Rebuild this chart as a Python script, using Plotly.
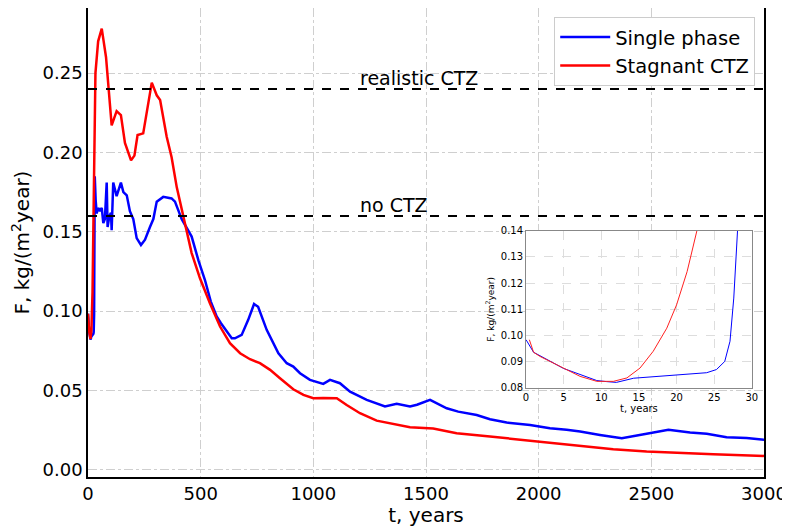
import plotly.graph_objects as go

# ---- main chart data ----
t_single = [0, 1, 5, 10.7, 12, 14.3, 17.4, 21.8, 24, 25.3, 26.4, 27.1, 27.6, 28.1, 30, 34, 38.5, 45, 53, 61, 68, 75,
            83, 87, 95, 102, 105, 112, 127, 146, 157, 172, 186, 201, 216, 235, 253, 275, 290, 305, 334, 371, 386,
            416, 430, 460, 490, 519, 545, 571, 590, 638, 652, 682, 711, 737, 755, 793, 845, 882, 911, 941, 985,
            1044, 1074, 1118, 1163, 1237, 1318, 1370, 1429, 1460, 1518, 1592, 1643, 1725, 1784, 1858, 1962, 2050,
            2124, 2184, 2272, 2369, 2479, 2576, 2672, 2746, 2834, 2923, 3000]
f_single = [0.0984, 0.0936, 0.0874, 0.0825, 0.0822, 0.0838, 0.0844, 0.0853, 0.0858, 0.087, 0.0901, 0.0978, 0.1143,
            0.14, 0.185, 0.17, 0.1616, 0.165, 0.163, 0.165, 0.1555, 0.158, 0.181, 0.153, 0.16, 0.162, 0.151, 0.181,
            0.1725, 0.181, 0.175, 0.173, 0.163, 0.158, 0.146, 0.1417, 0.145, 0.153, 0.158, 0.169, 0.172, 0.171,
            0.169, 0.158, 0.1546, 0.147, 0.132, 0.1196, 0.106, 0.0966, 0.0924, 0.0829, 0.0829, 0.085, 0.0945,
            0.1045, 0.1028, 0.0882, 0.0735, 0.0672, 0.0651, 0.0609, 0.0567, 0.0542, 0.0567, 0.0546, 0.0493,
            0.0441, 0.0399, 0.0416, 0.0399, 0.041, 0.0441, 0.0388, 0.0367, 0.0346, 0.0319, 0.0298, 0.0283,
            0.0262, 0.0252, 0.0241, 0.022, 0.02, 0.0227, 0.0252, 0.0235, 0.0227, 0.0206, 0.02, 0.0189]

t_stagnant = [0, 1, 5, 11, 15, 20, 23, 28, 33, 45, 61, 80, 105, 127, 146, 164, 191, 206, 220, 245, 268, 283, 305,
              320, 349, 371, 394, 416, 430, 460, 497, 541, 586, 630, 675, 719, 763, 808, 852, 911, 956, 1000,
              1044, 1104, 1148, 1207, 1281, 1340, 1385, 1429, 1532, 1636, 1784, 1932, 2080, 2184, 2331, 2479,
              2627, 2775, 3000]
f_stagnant = [0.0984, 0.0936, 0.0874, 0.0825, 0.0876, 0.1117, 0.14, 0.2, 0.25, 0.27, 0.278, 0.26, 0.217, 0.226,
              0.2235, 0.206, 0.195, 0.198, 0.211, 0.212, 0.231, 0.244, 0.236, 0.233, 0.21, 0.197, 0.178, 0.164,
              0.1555, 0.1366, 0.1207, 0.105, 0.0903, 0.0798, 0.0735, 0.0697, 0.0672, 0.063, 0.0577, 0.0508,
              0.0472, 0.0451, 0.0453, 0.0451, 0.0409, 0.0357, 0.031, 0.0294, 0.0277, 0.0269, 0.026, 0.0231,
              0.021, 0.0189, 0.0164, 0.0151, 0.013, 0.0115, 0.0105, 0.0099, 0.0088]

ref_levels = [0.24, 0.16]
ref_labels = ["realistic CTZ", "no CTZ"]
ref_label_x = 1200

# ---- inset data (first 30 years) ----
ti_single = [0, 1, 5, 9.4, 10.7, 12, 14.3, 17.4, 21.8, 24, 25.3, 26.4, 27.1, 27.6, 28.1]
fi_single = [0.0984, 0.0936, 0.0874, 0.0828, 0.0824, 0.0821, 0.0837, 0.0844, 0.0853, 0.0858, 0.087, 0.0901,
             0.0978, 0.1143, 0.14]
ti_stagnant = [0.44, 1.0, 1.86, 4.96, 7.18, 9.4, 11.6, 13.4, 15.15, 16.9, 18.7, 20.0, 21.4, 22.7]
fi_stagnant = [0.0984, 0.0936, 0.092, 0.0874, 0.0844, 0.0825, 0.0825, 0.0838, 0.0876, 0.094, 0.1028, 0.1117,
               0.1244, 0.14]

font_family = "DejaVu Sans"
fig = go.Figure()

fig.add_trace(go.Scatter(x=t_single, y=f_single, mode="lines", name="Single phase",
                         line=dict(color="#0000ff", width=2.5)))
fig.add_trace(go.Scatter(x=t_stagnant, y=f_stagnant, mode="lines", name="Stagnant CTZ",
                         line=dict(color="#ff0000", width=2.5)))

for lvl, lab in zip(ref_levels, ref_labels):
    fig.add_trace(go.Scatter(x=[0, 3000], y=[lvl, lvl], mode="lines", showlegend=False,
                             line=dict(color="black", width=2, dash="dash"), hoverinfo="skip"))
    fig.add_annotation(x=ref_label_x, y=lvl, text=lab, showarrow=False, xanchor="left", yanchor="bottom",
                       xref="x", yref="y", font=dict(size=19, color="black", family=font_family), yshift=-2)

# inset
fig.add_trace(go.Scatter(x=ti_single, y=fi_single, mode="lines", showlegend=False,
                         line=dict(color="#0000ff", width=1), xaxis="x2", yaxis="y2"))
fig.add_trace(go.Scatter(x=ti_stagnant, y=fi_stagnant, mode="lines", showlegend=False,
                         line=dict(color="#ff2020", width=1), xaxis="x2", yaxis="y2"))

# page body has an 8px margin, so the figure is sized/offset to fill the 790x527 window
fig.update_layout(
    width=782, height=519,
    margin=dict(l=80, r=26, t=0, b=50, autoexpand=False),
    paper_bgcolor="white", plot_bgcolor="white",
    font=dict(family=font_family, color="black"),
    showlegend=True,
    legend=dict(x=0.987, y=0.981, xanchor="right", yanchor="top", bgcolor="white",
                bordercolor="#cccccc", borderwidth=1, font=dict(size=19.5, family=font_family),
                tracegroupgap=0, itemwidth=50),
    xaxis=dict(range=[0, 3000], tickvals=[0, 500, 1000, 1500, 2000, 2500, 3000], automargin=False,
               showgrid=True, gridcolor="#cfcfcf", griddash="dashdot", gridwidth=1,
               showline=True, linecolor="black", linewidth=1.5, mirror=True, zeroline=False,
               tickfont=dict(size=18), ticks="",
               title=dict(text="t, years", font=dict(size=20), standoff=2)),
    yaxis=dict(range=[-0.0045, 0.291], tickvals=[0, 0.05, 0.1, 0.15, 0.2, 0.25], tickformat=".2f",
               automargin=False,
               showgrid=True, gridcolor="#cfcfcf", griddash="dashdot", gridwidth=1,
               showline=True, linecolor="black", linewidth=1.5, mirror=True, zeroline=False,
               tickfont=dict(size=18), ticks="",
               title=dict(text="F, kg/(m<sup>2</sup>year)", font=dict(size=20), standoff=8)),
    xaxis2=dict(domain=[0.648, 0.982], anchor="y2", range=[0, 30], tickvals=[0, 5, 10, 15, 20, 25, 30],
                automargin=False,
                showgrid=True, gridcolor="#dddddd", griddash="dash", gridwidth=1,
                showline=True, linecolor="#888888", linewidth=1, mirror=True, zeroline=False,
                tickfont=dict(size=10), ticks="", title=dict(text="t, years", font=dict(size=10), standoff=2)),
    yaxis2=dict(domain=[0.19, 0.525], anchor="x2", range=[0.08, 0.14], automargin=False,
                tickvals=[0.08, 0.09, 0.10, 0.11, 0.12, 0.13, 0.14], tickformat=".2f",
                showgrid=True, gridcolor="#dddddd", griddash="dash", gridwidth=1,
                showline=True, linecolor="#888888", linewidth=1, mirror=True, zeroline=False,
                tickfont=dict(size=10), ticks="",
                title=dict(text="F, kg/(m<sup>2</sup>year)", font=dict(size=9), standoff=4)),
)

fig.write_html("out.html")
